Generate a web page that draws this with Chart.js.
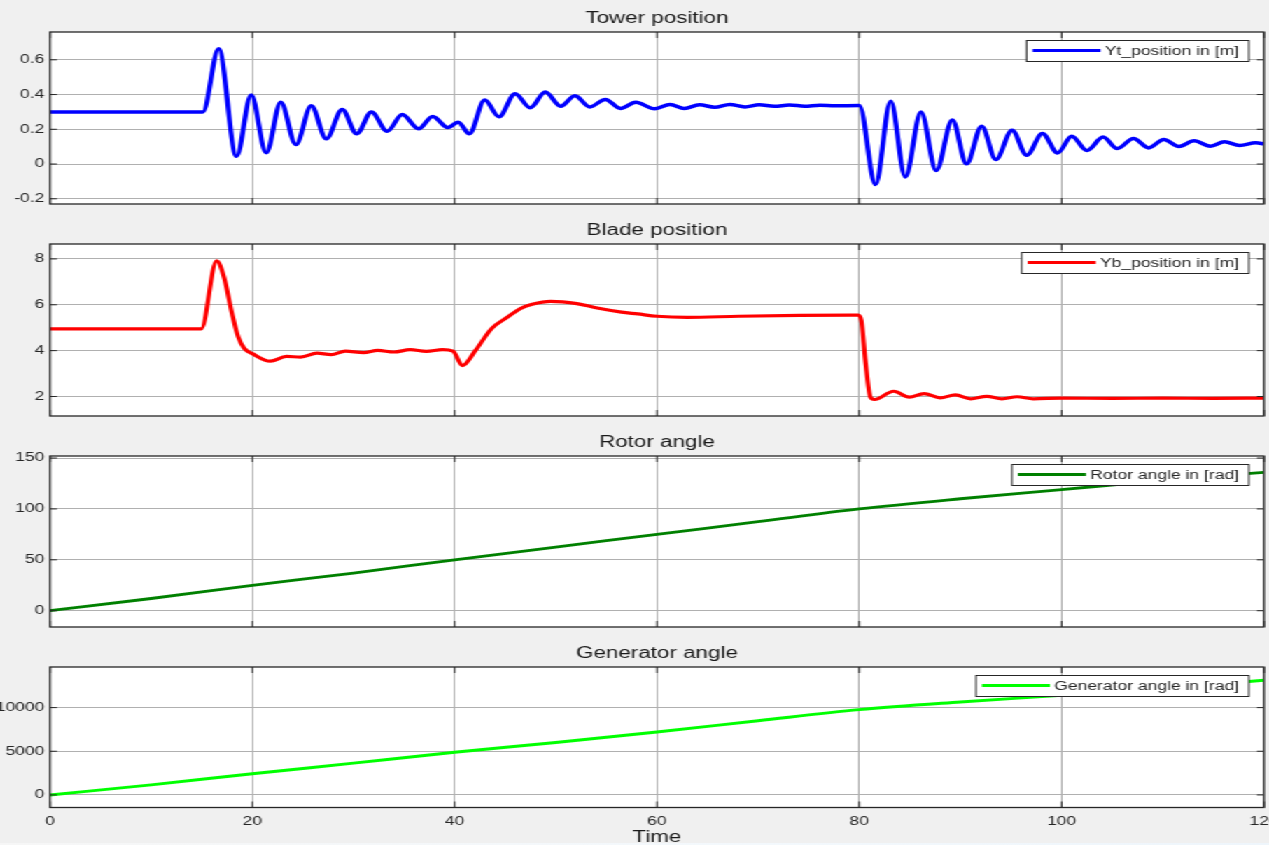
<!DOCTYPE html>
<html>
<head>
<meta charset="utf-8">
<script src="https://cdn.jsdelivr.net/npm/chart.js@4.4.1/dist/chart.umd.min.js"></script>
<style>
body { margin:0; background:#f0f0f0; overflow:hidden; width:1269px; height:845px; }
/* the reference screenshot is stretched sideways, so stretch the whole figure the same way */
#wrap { position:absolute; left:0; top:0; width:922px; height:845px; transform:scaleX(1.4); transform-origin:0 0; }
#wrap canvas { position:absolute; left:0; }
#strip { position:absolute; left:0; top:843px; width:1269px; height:2px; background:linear-gradient(to right, #f6f6f6, #f3f8fc 60%, #eef5fb); }
</style>
</head>
<body>
<div id="wrap">
  <canvas id="tower" width="922" height="216" style="top:0px"></canvas>
  <canvas id="blade" width="922" height="216" style="top:212px"></canvas>
  <canvas id="rotor" width="922" height="215" style="top:424px"></canvas>
  <canvas id="gen" width="922" height="212" style="top:635px"></canvas>
</div>
<div id="strip"></div>
<script>
// time axis
const timeTicks = [0, 20, 40, 60, 80, 100, 120];

// Tower position (peaks / troughs)
const towerTime = [0, 15.1, 16.67, 18.43, 19.88, 21.37, 22.81, 24.3, 25.82, 27.31,
  28.88, 30.32, 31.77, 33.33, 34.82, 36.43, 37.83, 39.32, 40.36, 41.45,
  42.97, 44.38, 45.98, 47.47, 48.96, 50.48, 51.89, 53.37, 54.9, 56.4,
  57.9, 59.8, 61.3, 62.7, 64.2, 65.7, 67.2, 68.7, 70.1, 71.6,
  73.1, 74.6, 76.1, 77.6, 80.0, 81.6, 83.1, 84.55, 86.1, 87.6,
  89.2, 90.6, 92.1, 93.5, 95.1, 96.55, 98.1, 99.6, 101.0, 102.5,
  104.1, 105.5, 107.1, 108.6, 110.1, 111.6, 113.1, 114.7, 116.1, 117.6,
  119.2, 120];
const towerPos = [0.30, 0.30, 0.663, 0.045, 0.397, 0.065, 0.356, 0.112, 0.335, 0.145,
  0.314, 0.174, 0.300, 0.189, 0.285, 0.203, 0.274, 0.210, 0.241, 0.174,
  0.368, 0.272, 0.404, 0.324, 0.414, 0.333, 0.393, 0.329, 0.372, 0.320,
  0.355, 0.318, 0.343, 0.320, 0.341, 0.327, 0.343, 0.329, 0.341, 0.332,
  0.340, 0.333, 0.339, 0.335, 0.337, -0.118, 0.362, -0.074, 0.299, -0.037,
  0.253, 0.001, 0.218, 0.026, 0.195, 0.051, 0.176, 0.064, 0.160, 0.078,
  0.155, 0.089, 0.147, 0.093, 0.141, 0.101, 0.134, 0.103, 0.128, 0.107,
  0.122, 0.116];
const towerTicks = [-0.2, 0, 0.2, 0.4, 0.6];

// Blade position
const bladeTime = [0, 14.94, 16.47, 17.2, 18.0, 18.6, 19.2, 20.04, 21.77, 23.37, 24.78,
  26.39, 27.79, 29.2, 31.0, 32.4, 34.0, 35.6, 37.2, 38.8, 39.84,
  40.76, 42.05, 43.65, 45.26, 46.47, 47.67, 49.48, 52.09, 54.1, 56.5,
  58.1, 60.0, 63.0, 68.1, 74.1, 79.9, 80.2, 80.6, 81.1, 81.5,
  83.4, 84.95, 86.4, 88.0, 89.5, 91.0, 92.6, 94.1, 95.6, 97.2,
  100, 105, 110, 115, 120];
const bladePos = [4.95, 4.95, 7.91, 7.2, 5.6, 4.6, 4.1, 3.86, 3.54, 3.75, 3.72,
  3.89, 3.83, 3.98, 3.91, 4.01, 3.94, 4.04, 3.97, 4.04, 3.98,
  3.35, 4.0, 4.96, 5.47, 5.83, 6.02, 6.15, 6.05, 5.86, 5.68,
  5.60, 5.50, 5.45, 5.50, 5.54, 5.55, 5.32, 3.57, 1.97, 1.87,
  2.23, 1.97, 2.13, 1.94, 2.07, 1.90, 2.01, 1.90, 1.99, 1.90,
  1.93, 1.92, 1.93, 1.92, 1.93];
const bladeTicks = [2, 4, 6, 8];

// Rotor and generator angle
const angleTime = [0, 10, 20, 30, 40, 50, 60, 70, 80, 90, 100, 110, 120];
const rotorAngle = [0, 12, 25, 37, 50, 62.5, 75, 87.5, 100, 110, 119, 128, 136];
const rotorTicks = [0, 50, 100, 150];
const genAngle = [0, 1150, 2420, 3640, 4880, 6000, 7200, 8500, 9770, 10650, 11410, 12250, 13120];
const genTicks = [0, 5000, 10000];

Chart.defaults.font.family = '"Liberation Sans", Arial, sans-serif';
Chart.defaults.color = '#262626';

// MATLAB look: white axes, box, inward ticks, title and legend
const matlabFrame = {
  id: 'matlabFrame',
  beforeDraw(chart) {
    const {ctx, chartArea: a} = chart;
    ctx.save();
    ctx.fillStyle = '#ffffff';
    ctx.fillRect(a.left, a.top, a.right - a.left, a.bottom - a.top);
    ctx.restore();
  },
  afterDraw(chart, args, opts) {
    const {ctx, chartArea: a, scales} = chart;
    ctx.save();
    ctx.strokeStyle = '#262626';
    ctx.lineWidth = 1;
    ctx.beginPath();
    scales.y.ticks.forEach(t => {
      const y = scales.y.getPixelForValue(t.value);
      ctx.moveTo(a.left, y); ctx.lineTo(a.left + 5, y);
      ctx.moveTo(a.right, y); ctx.lineTo(a.right - 5, y);
    });
    scales.x.ticks.forEach(t => {
      const x = scales.x.getPixelForValue(t.value);
      ctx.moveTo(x, a.top); ctx.lineTo(x, a.top + 6);
      ctx.moveTo(x, a.bottom); ctx.lineTo(x, a.bottom - 6);
    });
    ctx.stroke();
    ctx.lineWidth = 1.3;
    ctx.strokeRect(a.left, a.top, a.right - a.left, a.bottom - a.top);

    ctx.fillStyle = '#1a1a1a';
    ctx.font = '16px "Liberation Sans", Arial, sans-serif';
    ctx.textAlign = 'center';
    ctx.textBaseline = 'middle';
    ctx.fillText(opts.title, (a.left + a.right) / 2, a.top - 13);

    const ds = chart.data.datasets[0];
    ctx.font = '12.5px "Liberation Sans", Arial, sans-serif';
    const tw = ctx.measureText(ds.label).width;
    const w = 4.3 + 48.6 + 3 + tw + 7, h = 21;
    const bx = a.right - 10.8 - w, by = a.top + 8;
    ctx.fillStyle = '#ffffff';
    ctx.fillRect(bx, by, w, h);
    ctx.lineWidth = 1;
    ctx.strokeStyle = '#262626';
    ctx.strokeRect(bx, by + 0.5, w, h);
    ctx.strokeStyle = ds.borderColor;
    ctx.lineWidth = 3;
    ctx.beginPath();
    ctx.moveTo(bx + 4.3, by + h / 2);
    ctx.lineTo(bx + 4.3 + 48.6, by + h / 2);
    ctx.stroke();
    ctx.fillStyle = '#262626';
    ctx.textAlign = 'left';
    ctx.fillText(ds.label, bx + 4.3 + 48.6 + 3, by + h / 2 + 1);
    ctx.restore();
  }
};

function makePanel(id, title, label, times, values, color, width, yMin, yMax, yTicks, lastPanel) {
  const xAxis = {
    type: 'linear', min: 0, max: 120,
    afterBuildTicks: s => { s.ticks = timeTicks.map(v => ({value: v})); },
    grid: {color: '#b0b0b0', drawTicks: false},
    border: {display: false},
    ticks: {display: lastPanel, padding: 7, font: {size: 12.5}, callback: v => String(v)},
    title: {display: lastPanel, text: 'Time', font: {size: 16}, color: '#1a1a1a', padding: 0},
    afterFit: s => { s.height = lastPanel ? 39.5 : 12; }
  };
  new Chart(document.getElementById(id), {
    type: 'line',
    data: {
      datasets: [{
        label: label,
        data: times.map((t, i) => ({x: t, y: values[i]})),
        borderColor: color,
        borderWidth: width,
        pointRadius: 0,
        cubicInterpolationMode: 'monotone',
        fill: false
      }]
    },
    options: {
      responsive: false,
      animation: false,
      devicePixelRatio: 1,
      layout: {padding: {left: 0, right: 19.14, top: 32, bottom: 0}},
      plugins: {legend: {display: false}, tooltip: {enabled: false}, matlabFrame: {title: title}},
      scales: {
        x: xAxis,
        y: {
          min: yMin, max: yMax,
          afterBuildTicks: s => { s.ticks = yTicks.map(v => ({value: v})); },
          grid: {color: '#b0b0b0', drawTicks: false},
          border: {display: false},
          ticks: {padding: 4, font: {size: 12.5}, callback: v => String(v)},
          afterFit: s => { s.width = 35.7; }
        }
      }
    },
    plugins: [matlabFrame]
  });
}

makePanel('tower', 'Tower position', 'Yt_position in [m]', towerTime, towerPos, '#0000ff', 3.5, -0.23, 0.76, towerTicks, false);
makePanel('blade', 'Blade position', 'Yb_position in [m]', bladeTime, bladePos, '#ff0000', 3.2, 1.15, 8.65, bladeTicks, false);
makePanel('rotor', 'Rotor angle', 'Rotor angle in [rad]', angleTime, rotorAngle, '#008000', 2.8, -16, 152, rotorTicks, false);
makePanel('gen', 'Generator angle', 'Generator angle in [rad]', angleTime, genAngle, '#00ff00', 3, -1440, 14650, genTicks, true);
</script>
</body>
</html>
